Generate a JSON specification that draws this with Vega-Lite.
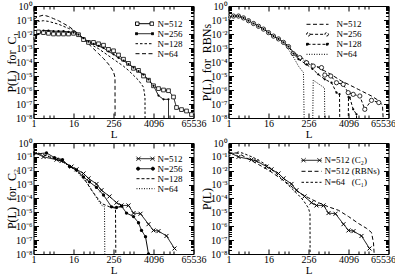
{
"$schema":"https://vega.github.io/schema/vega-lite/v6.json",
"padding":{"left":4.5,"top":0,"right":0,"bottom":0},
"bounds":"flush",
"columns":2,
"spacing":{"row":25,"column":35},
"config":{
 "font":"Liberation Serif",
 "view":{"stroke":"black","strokeWidth":1},
 "mark":{"color":"black"},
 "axis":{"domain":false,"grid":false,"labelFont":"Liberation Serif","labelFontSize":10,"labelColor":"black","tickColor":"black","tickWidth":1,"titleFont":"Liberation Serif","titleFontWeight":"normal","titleColor":"black","labelFlush":false,"labelOverlap":false},
 "axisX":{"labelPadding":5,"titlePadding":0,"titleFontSize":11},
 "axisY":{"labelPadding":6.5,"titlePadding":-2.5,"titleFontSize":12},
 "legend":{"labelFont":"Liberation Serif","labelFontSize":9,"labelColor":"black","padding":0,"rowPadding":0,"symbolStrokeWidth":1,"symbolStrokeColor":"black","symbolSize":64}
},
"resolve":{"scale":{"strokeDash":"independent"},"legend":{"strokeDash":"independent"}},
"datasets":{
"c1":[
{"series":"N=512","L":1,"P":5.62e-3},{"series":"N=512","L":1.414,"P":1.41e-2},{"series":"N=512","L":2,"P":1.26e-2},{"series":"N=512","L":2.828,"P":1.12e-2},{"series":"N=512","L":4,"P":1.0e-2},{"series":"N=512","L":5.657,"P":1.0e-2},{"series":"N=512","L":8,"P":1.0e-2},{"series":"N=512","L":11.31,"P":1.0e-2},{"series":"N=512","L":16,"P":1.12e-2},{"series":"N=512","L":22.63,"P":8.91e-3},{"series":"N=512","L":32,"P":3.98e-3},{"series":"N=512","L":45.25,"P":2.51e-3},{"series":"N=512","L":64,"P":2.51e-3},{"series":"N=512","L":90.5,"P":2.0e-3},{"series":"N=512","L":128,"P":1.58e-3},{"series":"N=512","L":181,"P":7.94e-4},{"series":"N=512","L":256,"P":6.31e-4},{"series":"N=512","L":362,"P":3.16e-4},{"series":"N=512","L":512,"P":1.58e-4},{"series":"N=512","L":724,"P":7.94e-5},{"series":"N=512","L":1024,"P":3.55e-5},{"series":"N=512","L":1448,"P":2.51e-5},{"series":"N=512","L":2048,"P":1.0e-5},{"series":"N=512","L":2896,"P":5.01e-6},{"series":"N=512","L":4096,"P":2.0e-6},{"series":"N=512","L":5793,"P":1.26e-6},{"series":"N=512","L":8192,"P":1.0e-6},{"series":"N=512","L":11585,"P":8.91e-7},{"series":"N=512","L":16384,"P":3.16e-7},{"series":"N=512","L":20171,"P":5.62e-8},{"series":"N=512","L":28526,"P":3.98e-8},{"series":"N=512","L":40341,"P":3.16e-8},{"series":"N=512","L":57052,"P":1.78e-8},
{"series":"N=256","L":1,"P":5.01e-3},{"series":"N=256","L":1.414,"P":1.0e-2},{"series":"N=256","L":2,"P":1.78e-2},{"series":"N=256","L":2.828,"P":1.78e-2},{"series":"N=256","L":4,"P":1.58e-2},{"series":"N=256","L":5.657,"P":1.58e-2},{"series":"N=256","L":8,"P":1.58e-2},{"series":"N=256","L":11.31,"P":1.41e-2},{"series":"N=256","L":16,"P":1.26e-2},{"series":"N=256","L":22.63,"P":8.91e-3},{"series":"N=256","L":32,"P":5.01e-3},{"series":"N=256","L":45.25,"P":2.82e-3},{"series":"N=256","L":64,"P":2.0e-3},{"series":"N=256","L":90.5,"P":1.41e-3},{"series":"N=256","L":128,"P":1.0e-3},{"series":"N=256","L":181,"P":5.62e-4},{"series":"N=256","L":256,"P":3.55e-4},{"series":"N=256","L":362,"P":2.0e-4},{"series":"N=256","L":512,"P":1.26e-4},{"series":"N=256","L":724,"P":7.08e-5},{"series":"N=256","L":1024,"P":3.98e-5},{"series":"N=256","L":1448,"P":2.24e-5},{"series":"N=256","L":2048,"P":1.26e-5},{"series":"N=256","L":2896,"P":5.62e-6},{"series":"N=256","L":4096,"P":2.0e-6},{"series":"N=256","L":5793,"P":3.98e-7},{"series":"N=256","L":8192,"P":2.14e-7},{"series":"N=256","L":11585,"P":2.14e-7},{"series":"N=256","L":11600,"P":1e-10},
{"series":"N=128","L":1,"P":5.01e-2},{"series":"N=128","L":1.414,"P":7.94e-2},{"series":"N=128","L":2,"P":8.91e-2},{"series":"N=128","L":2.828,"P":7.94e-2},{"series":"N=128","L":4,"P":6.31e-2},{"series":"N=128","L":5.657,"P":5.01e-2},{"series":"N=128","L":8,"P":3.55e-2},{"series":"N=128","L":11.31,"P":2.51e-2},{"series":"N=128","L":16,"P":1.78e-2},{"series":"N=128","L":22.63,"P":1.0e-2},{"series":"N=128","L":32,"P":5.01e-3},{"series":"N=128","L":45.25,"P":2.51e-3},{"series":"N=128","L":64,"P":1.41e-3},{"series":"N=128","L":90.5,"P":8.91e-4},{"series":"N=128","L":128,"P":5.01e-4},{"series":"N=128","L":181,"P":2.82e-4},{"series":"N=128","L":256,"P":1.58e-4},{"series":"N=128","L":362,"P":8.91e-5},{"series":"N=128","L":512,"P":5.01e-5},{"series":"N=128","L":724,"P":2.51e-5},{"series":"N=128","L":1024,"P":1.12e-5},{"series":"N=128","L":1448,"P":5.01e-6},{"series":"N=128","L":2048,"P":1.58e-6},{"series":"N=128","L":2272,"P":3.16e-7},{"series":"N=128","L":2290,"P":1e-10},
{"series":"N=64","L":1,"P":0.112},{"series":"N=64","L":1.414,"P":0.178},{"series":"N=64","L":2,"P":0.224},{"series":"N=64","L":2.828,"P":0.178},{"series":"N=64","L":4,"P":0.126},{"series":"N=64","L":5.657,"P":8.91e-2},{"series":"N=64","L":8,"P":5.62e-2},{"series":"N=64","L":11.31,"P":3.55e-2},{"series":"N=64","L":16,"P":2.0e-2},{"series":"N=64","L":22.63,"P":1.0e-2},{"series":"N=64","L":32,"P":4.47e-3},{"series":"N=64","L":45.25,"P":2.0e-3},{"series":"N=64","L":64,"P":8.91e-4},{"series":"N=64","L":90.5,"P":3.98e-4},{"series":"N=64","L":128,"P":1.78e-4},{"series":"N=64","L":181,"P":7.08e-5},{"series":"N=64","L":256,"P":2.0e-5},{"series":"N=64","L":284,"P":7.94e-6},{"series":"N=64","L":287,"P":1e-10}
],
"rbn":[
{"series":"N=512","L":1,"P":0.158},{"series":"N=512","L":1.414,"P":0.191},{"series":"N=512","L":2,"P":0.191},{"series":"N=512","L":2.828,"P":0.141},{"series":"N=512","L":4,"P":8.91e-2},{"series":"N=512","L":5.657,"P":5.62e-2},{"series":"N=512","L":8,"P":3.55e-2},{"series":"N=512","L":11.31,"P":2.24e-2},{"series":"N=512","L":16,"P":1.26e-2},{"series":"N=512","L":22.63,"P":7.08e-3},{"series":"N=512","L":32,"P":4.47e-3},{"series":"N=512","L":45.25,"P":2.51e-3},{"series":"N=512","L":64,"P":1.26e-3},{"series":"N=512","L":90.5,"P":5.01e-4},{"series":"N=512","L":157.6,"P":2.04e-4},{"series":"N=512","L":256,"P":1.0e-4},{"series":"N=512","L":512,"P":3.98e-5},{"series":"N=512","L":792.4,"P":2.29e-5},{"series":"N=512","L":1448,"P":1.0e-5},{"series":"N=512","L":2521,"P":4.37e-6},{"series":"N=512","L":4096,"P":2.51e-6},{"series":"N=512","L":8023,"P":1.12e-6},{"series":"N=512","L":20171,"P":3.72e-7},{"series":"N=512","L":32768,"P":1.78e-7},{"series":"N=512","L":43237,"P":7.94e-8},{"series":"N=512","L":49667,"P":1e-10},
{"series":"N=256","L":1,"P":0.158},{"series":"N=256","L":1.414,"P":0.191},{"series":"N=256","L":2,"P":0.191},{"series":"N=256","L":2.828,"P":0.141},{"series":"N=256","L":4,"P":8.91e-2},{"series":"N=256","L":5.657,"P":5.62e-2},{"series":"N=256","L":8,"P":3.55e-2},{"series":"N=256","L":11.31,"P":2.24e-2},{"series":"N=256","L":16,"P":1.26e-2},{"series":"N=256","L":22.63,"P":7.08e-3},{"series":"N=256","L":32,"P":4.47e-3},{"series":"N=256","L":45.25,"P":2.51e-3},{"series":"N=256","L":64,"P":1.26e-3},{"series":"N=256","L":88.65,"P":3.98e-4},{"series":"N=256","L":140.1,"P":2.04e-4},{"series":"N=256","L":222.9,"P":8.91e-5},{"series":"N=256","L":354.6,"P":5.13e-5},{"series":"N=256","L":630.4,"P":3.98e-5},{"series":"N=256","L":792.4,"P":1.17e-5},{"series":"N=256","L":1201,"P":1.0e-5},{"series":"N=256","L":1783,"P":3.31e-6},{"series":"N=256","L":2837,"P":2.51e-6},{"series":"N=256","L":4012,"P":6.46e-7},{"series":"N=256","L":5673,"P":4.9e-7},{"series":"N=256","L":8965,"P":3.72e-7},{"series":"N=256","L":12678,"P":4.17e-8},{"series":"N=256","L":20171,"P":1.82e-7},{"series":"N=256","L":33456,"P":1.26e-7},
{"series":"N=128","L":1,"P":0.158},{"series":"N=128","L":1.414,"P":0.191},{"series":"N=128","L":2,"P":0.191},{"series":"N=128","L":2.828,"P":0.141},{"series":"N=128","L":4,"P":8.91e-2},{"series":"N=128","L":5.657,"P":5.62e-2},{"series":"N=128","L":8,"P":3.55e-2},{"series":"N=128","L":11.31,"P":2.24e-2},{"series":"N=128","L":16,"P":1.26e-2},{"series":"N=128","L":22.63,"P":7.08e-3},{"series":"N=128","L":32,"P":4.47e-3},{"series":"N=128","L":45.25,"P":2.51e-3},{"series":"N=128","L":64,"P":1.26e-3},{"series":"N=128","L":90.5,"P":3.98e-4},{"series":"N=128","L":128,"P":1.58e-4},{"series":"N=128","L":222.9,"P":6.76e-5},{"series":"N=128","L":337.8,"P":3.16e-5},{"series":"N=128","L":501.4,"P":1.32e-5},{"series":"N=128","L":792.4,"P":5.75e-6},{"series":"N=128","L":1261,"P":3.31e-6},{"series":"N=128","L":1783,"P":6.46e-7},{"series":"N=128","L":2195,"P":5.01e-7},{"series":"N=128","L":2272,"P":1e-10},{"series":"N=128","L":3956,"P":1e-10},{"series":"N=128","L":4096,"P":3.16e-7},{"series":"N=128","L":4482,"P":2.82e-7},{"series":"N=128","L":5673,"P":4.17e-8},{"series":"N=128","L":7131,"P":1.82e-8},{"series":"N=128","L":7383,"P":1e-10},
{"series":"N=64","L":1,"P":0.158},{"series":"N=64","L":1.414,"P":0.191},{"series":"N=64","L":2,"P":0.191},{"series":"N=64","L":2.828,"P":0.141},{"series":"N=64","L":4,"P":8.91e-2},{"series":"N=64","L":5.657,"P":5.62e-2},{"series":"N=64","L":8,"P":3.55e-2},{"series":"N=64","L":11.31,"P":2.24e-2},{"series":"N=64","L":16,"P":1.26e-2},{"series":"N=64","L":22.63,"P":7.08e-3},{"series":"N=64","L":32,"P":4.47e-3},{"series":"N=64","L":45.25,"P":2.24e-3},{"series":"N=64","L":64,"P":7.94e-4},{"series":"N=64","L":90.5,"P":2.24e-4},{"series":"N=64","L":128,"P":5.01e-5},{"series":"N=64","L":181,"P":1.74e-5},{"series":"N=64","L":194,"P":1e-10},{"series":"N=64","L":337.8,"P":1e-10},{"series":"N=64","L":354.6,"P":5.01e-6},{"series":"N=64","L":776,"P":1.41e-6},{"series":"N=64","L":803.4,"P":1e-10}
],
"c2":[
{"series":"N=512","L":1,"P":0.224},{"series":"N=512","L":2,"P":0.1},{"series":"N=512","L":4.925,"P":6.31e-2},{"series":"N=512","L":6.964,"P":5.01e-2},{"series":"N=512","L":13.93,"P":2.0e-2},{"series":"N=512","L":19.7,"P":1.26e-2},{"series":"N=512","L":32,"P":6.31e-3},{"series":"N=512","L":45.25,"P":2.82e-3},{"series":"N=512","L":78.8,"P":1.12e-3},{"series":"N=512","L":111.4,"P":3.98e-4},{"series":"N=512","L":194,"P":1.41e-4},{"series":"N=512","L":315.2,"P":5.01e-5},{"series":"N=512","L":445.7,"P":3.16e-5},{"series":"N=512","L":724,"P":3.16e-5},{"series":"N=512","L":1024,"P":8.91e-6},{"series":"N=512","L":1663,"P":7.94e-6},{"series":"N=512","L":2896,"P":1.41e-6},{"series":"N=512","L":4096,"P":5.01e-7},{"series":"N=512","L":5793,"P":4.47e-7},{"series":"N=512","L":10086,"P":2.0e-7},{"series":"N=512","L":17560,"P":2.51e-8},
{"series":"N=256","L":1,"P":0.158},{"series":"N=256","L":2.462,"P":0.191},{"series":"N=256","L":4.287,"P":8.91e-2},{"series":"N=256","L":7.464,"P":6.31e-2},{"series":"N=256","L":12.13,"P":2.0e-2},{"series":"N=256","L":19.7,"P":1.12e-2},{"series":"N=256","L":32,"P":3.55e-3},{"series":"N=256","L":48.5,"P":1.58e-3},{"series":"N=256","L":78.8,"P":6.31e-4},{"series":"N=256","L":128,"P":1.78e-4},{"series":"N=256","L":222.9,"P":2.51e-5},{"series":"N=256","L":315.2,"P":2.24e-5},{"series":"N=256","L":445.7,"P":2.82e-5},{"series":"N=256","L":630.4,"P":8.91e-6},{"series":"N=256","L":1024,"P":5.01e-6},{"series":"N=256","L":1448,"P":1.78e-6},{"series":"N=256","L":1783,"P":5.01e-7},{"series":"N=256","L":2353,"P":1.78e-7},{"series":"N=256","L":2896,"P":1.0e-8},{"series":"N=256","L":3104,"P":1e-9},
{"series":"N=128","L":1,"P":0.2},{"series":"N=128","L":2,"P":0.141},{"series":"N=128","L":4,"P":7.94e-2},{"series":"N=128","L":8,"P":4.47e-2},{"series":"N=128","L":11.31,"P":2.51e-2},{"series":"N=128","L":16,"P":1.41e-2},{"series":"N=128","L":22.63,"P":7.94e-3},{"series":"N=128","L":32,"P":3.16e-3},{"series":"N=128","L":55.7,"P":3.98e-4},{"series":"N=128","L":78.8,"P":1.32e-4},{"series":"N=128","L":111.4,"P":4.37e-5},{"series":"N=128","L":194,"P":2.51e-5},{"series":"N=128","L":294,"P":2.0e-5},{"series":"N=128","L":304.4,"P":1e-10},
{"series":"N=64","L":1,"P":0.224},{"series":"N=64","L":2,"P":0.158},{"series":"N=64","L":4,"P":7.94e-2},{"series":"N=64","L":8,"P":3.98e-2},{"series":"N=64","L":16,"P":1.41e-2},{"series":"N=64","L":22.63,"P":6.31e-3},{"series":"N=64","L":32,"P":2.51e-3},{"series":"N=64","L":45.25,"P":1.0e-3},{"series":"N=64","L":70,"P":1.74e-4},{"series":"N=64","L":111.4,"P":3.31e-5},{"series":"N=64","L":137.2,"P":2.51e-5},{"series":"N=64","L":142,"P":1e-10}
],
"p4":[
{"series":"N=512 (C₂)","L":1,"P":0.224},{"series":"N=512 (C₂)","L":2,"P":0.1},{"series":"N=512 (C₂)","L":4.925,"P":6.31e-2},{"series":"N=512 (C₂)","L":6.964,"P":5.01e-2},{"series":"N=512 (C₂)","L":13.93,"P":2.0e-2},{"series":"N=512 (C₂)","L":19.7,"P":1.26e-2},{"series":"N=512 (C₂)","L":32,"P":6.31e-3},{"series":"N=512 (C₂)","L":45.25,"P":2.82e-3},{"series":"N=512 (C₂)","L":78.8,"P":1.12e-3},{"series":"N=512 (C₂)","L":111.4,"P":3.98e-4},{"series":"N=512 (C₂)","L":194,"P":1.41e-4},{"series":"N=512 (C₂)","L":315.2,"P":5.01e-5},{"series":"N=512 (C₂)","L":445.7,"P":3.16e-5},{"series":"N=512 (C₂)","L":724,"P":3.16e-5},{"series":"N=512 (C₂)","L":1024,"P":8.91e-6},{"series":"N=512 (C₂)","L":1663,"P":7.94e-6},{"series":"N=512 (C₂)","L":2896,"P":1.41e-6},{"series":"N=512 (C₂)","L":4096,"P":5.01e-7},{"series":"N=512 (C₂)","L":5793,"P":4.47e-7},{"series":"N=512 (C₂)","L":10086,"P":2.0e-7},{"series":"N=512 (C₂)","L":17560,"P":2.51e-8},
{"series":"N=512 (RBNs)","L":1,"P":0.178},{"series":"N=512 (RBNs)","L":1.414,"P":0.2},{"series":"N=512 (RBNs)","L":2,"P":0.178},{"series":"N=512 (RBNs)","L":4,"P":7.08e-2},{"series":"N=512 (RBNs)","L":8,"P":2.82e-2},{"series":"N=512 (RBNs)","L":16,"P":1.12e-2},{"series":"N=512 (RBNs)","L":32,"P":3.55e-3},{"series":"N=512 (RBNs)","L":64,"P":1.12e-3},{"series":"N=512 (RBNs)","L":128,"P":2.82e-4},{"series":"N=512 (RBNs)","L":256,"P":1.12e-4},{"series":"N=512 (RBNs)","L":512,"P":5.01e-5},{"series":"N=512 (RBNs)","L":1024,"P":2.51e-5},{"series":"N=512 (RBNs)","L":2048,"P":1.41e-5},{"series":"N=512 (RBNs)","L":4096,"P":5.01e-6},{"series":"N=512 (RBNs)","L":8192,"P":1.58e-6},{"series":"N=512 (RBNs)","L":14263,"P":7.08e-7},{"series":"N=512 (RBNs)","L":20171,"P":3.55e-7},{"series":"N=512 (RBNs)","L":23170,"P":6.31e-8},{"series":"N=512 (RBNs)","L":25709,"P":1e-9},
{"series":"N=64\u00a0\u00a0\u00a0(C₁)","L":1,"P":0.112},{"series":"N=64\u00a0\u00a0\u00a0(C₁)","L":1.414,"P":0.178},{"series":"N=64\u00a0\u00a0\u00a0(C₁)","L":2,"P":0.224},{"series":"N=64\u00a0\u00a0\u00a0(C₁)","L":2.828,"P":0.178},{"series":"N=64\u00a0\u00a0\u00a0(C₁)","L":4,"P":0.126},{"series":"N=64\u00a0\u00a0\u00a0(C₁)","L":5.657,"P":8.91e-2},{"series":"N=64\u00a0\u00a0\u00a0(C₁)","L":8,"P":5.62e-2},{"series":"N=64\u00a0\u00a0\u00a0(C₁)","L":11.31,"P":3.55e-2},{"series":"N=64\u00a0\u00a0\u00a0(C₁)","L":16,"P":2.0e-2},{"series":"N=64\u00a0\u00a0\u00a0(C₁)","L":22.63,"P":1.0e-2},{"series":"N=64\u00a0\u00a0\u00a0(C₁)","L":32,"P":4.47e-3},{"series":"N=64\u00a0\u00a0\u00a0(C₁)","L":45.25,"P":2.0e-3},{"series":"N=64\u00a0\u00a0\u00a0(C₁)","L":64,"P":8.91e-4},{"series":"N=64\u00a0\u00a0\u00a0(C₁)","L":90.5,"P":3.98e-4},{"series":"N=64\u00a0\u00a0\u00a0(C₁)","L":128,"P":1.78e-4},{"series":"N=64\u00a0\u00a0\u00a0(C₁)","L":181,"P":7.08e-5},{"series":"N=64\u00a0\u00a0\u00a0(C₁)","L":256,"P":2.0e-5},{"series":"N=64\u00a0\u00a0\u00a0(C₁)","L":284,"P":7.94e-6},{"series":"N=64\u00a0\u00a0\u00a0(C₁)","L":287,"P":1e-10}
]
},
"concat":[
{
 "width":160,"height":112,"data":{"name":"c1"},
 "resolve":{"axis":{"x":"independent","y":"independent"}},
 "layer":[
  {"mark":{"type":"line","stroke":"black","strokeWidth":1,"clip":true},
   "encoding":{
    "x":{"field":"L","type":"quantitative","scale":{"type":"log","base":2,"domain":[1,65536],"nice":false},"axis":{"orient":"bottom","values":[1,16,256,4096,65536],"format":"d","title":"L","tickSize":-5}},
    "y":{"field":"P","type":"quantitative","scale":{"type":"log","base":10,"domain":[1e-8,1],"nice":false},"axis":{"orient":"left","values":[1,0.1,0.01,0.001,0.0001,1e-5,1e-6,1e-7,1e-8],"labelExpr":"'10' + (datum.value >= 0.99 ? '⁰' : '⁻' + ['','¹','²','³','⁴','⁵','⁶','⁷','⁸'][round(-log(datum.value)/LN10)])","title":"P(L)\u00a0\u00a0for\u00a0\u00a0C₁","tickSize":-5}},
    "strokeDash":{"field":"series","type":"nominal","scale":{"domain":["N=512","N=256","N=128","N=64"],"range":[[1,0],[1,0],[2.5,2],[4,2.5]]},
     "legend":{"title":null,"orient":"none","legendX":106.5,"legendY":13.2,"labelOffset":8.5,
      "encode":{"symbols":{"update":{
       "shape":{"signal":"datum.value==='N=512' ? 'M-1.375,0H1.375M-2.25,-0.44h0.875v0.875h-0.875zM1.375,-0.44h0.875v0.875h-0.875z' : datum.value==='N=256' ? 'M-2,0H2M-2.25,-0.25h0.5v0.5h-0.5zM1.75,-0.25h0.5v0.5h-0.5z' : 'M-2.25,0H2.25'"},
       "fill":{"signal":"datum.value==='N=512' ? 'white' : datum.value==='N=256' ? 'black' : 'transparent'"},
       "stroke":{"value":"black"},"strokeWidth":{"value":1}}}}}}
   }},
  {"transform":[{"filter":"datum.series==='N=512'"}],
   "mark":{"type":"point","shape":"square","size":14,"filled":true,"fill":"white","stroke":"black","strokeWidth":0.8,"opacity":1,"clip":true},
   "encoding":{
    "x":{"field":"L","type":"quantitative","scale":{"type":"log","base":2,"domain":[1,65536],"nice":false},"axis":{"orient":"top","values":[1,16,256,4096,65536],"labels":false,"title":null,"tickSize":-5}},
    "y":{"field":"P","type":"quantitative","scale":{"type":"log","base":10,"domain":[1e-8,1],"nice":false},"axis":{"orient":"right","values":[1,0.1,0.01,0.001,0.0001,1e-5,1e-6,1e-7,1e-8],"labels":false,"title":null,"tickSize":-5}}}},
  {"transform":[{"filter":"datum.series==='N=256'"}],
   "mark":{"type":"circle","size":5,"fill":"black","opacity":1,"clip":true},
   "encoding":{
    "x":{"field":"L","type":"quantitative","scale":{"type":"log","base":2,"domain":[1,65536],"nice":false},"axis":{"orient":"bottom","values":[2,3,4,32,48,64,512,768,1024,8192,12288,16384],"labels":false,"title":null,"tickSize":-3}},
    "y":{"field":"P","type":"quantitative","scale":{"type":"log","base":10,"domain":[1e-8,1],"nice":false},"axis":{"orient":"left","values":[2e-8,3e-8,4e-8,5e-8,6e-8,7e-8,8e-8,9e-8,2e-7,3e-7,4e-7,5e-7,6e-7,7e-7,8e-7,9e-7,2e-6,3e-6,4e-6,5e-6,6e-6,7e-6,8e-6,9e-6,2e-5,3e-5,4e-5,5e-5,6e-5,7e-5,8e-5,9e-5,2e-4,3e-4,4e-4,5e-4,6e-4,7e-4,8e-4,9e-4,0.002,0.003,0.004,0.005,0.006,0.007,0.008,0.009,0.02,0.03,0.04,0.05,0.06,0.07,0.08,0.09,0.2,0.3,0.4,0.5,0.6,0.7,0.8,0.9],"labels":false,"title":null,"tickSize":-3}}}},
  {"mark":{"type":"point","opacity":0},
   "encoding":{
    "x":{"field":"L","type":"quantitative","scale":{"type":"log","base":2,"domain":[1,65536],"nice":false},"axis":{"orient":"top","values":[2,3,4,32,48,64,512,768,1024,8192,12288,16384],"labels":false,"title":null,"tickSize":-3}},
    "y":{"field":"P","type":"quantitative","scale":{"type":"log","base":10,"domain":[1e-8,1],"nice":false},"axis":{"orient":"right","values":[2e-8,3e-8,4e-8,5e-8,6e-8,7e-8,8e-8,9e-8,2e-7,3e-7,4e-7,5e-7,6e-7,7e-7,8e-7,9e-7,2e-6,3e-6,4e-6,5e-6,6e-6,7e-6,8e-6,9e-6,2e-5,3e-5,4e-5,5e-5,6e-5,7e-5,8e-5,9e-5,2e-4,3e-4,4e-4,5e-4,6e-4,7e-4,8e-4,9e-4,0.002,0.003,0.004,0.005,0.006,0.007,0.008,0.009,0.02,0.03,0.04,0.05,0.06,0.07,0.08,0.09,0.2,0.3,0.4,0.5,0.6,0.7,0.8,0.9],"labels":false,"title":null,"tickSize":-3}}}}
 ]
},
{
 "width":160,"height":112,"data":{"name":"rbn"},
 "resolve":{"axis":{"x":"independent","y":"independent"}},
 "layer":[
  {"mark":{"type":"line","stroke":"black","strokeWidth":1,"clip":true},
   "encoding":{
    "x":{"field":"L","type":"quantitative","scale":{"type":"log","base":2,"domain":[1,65536],"nice":false},"axis":{"orient":"bottom","values":[1,16,256,4096,65536],"format":"d","title":"L","tickSize":-5,"labelAlign":{"condition":{"test":"datum.value >= 65536","value":"right"},"value":"center"},"labelOffset":{"condition":{"test":"datum.value >= 65536","value":7},"value":0}}},
    "y":{"field":"P","type":"quantitative","scale":{"type":"log","base":10,"domain":[1e-8,1],"nice":false},"axis":{"orient":"left","values":[1,0.1,0.01,0.001,0.0001,1e-5,1e-6,1e-7,1e-8],"labelExpr":"'10' + (datum.value >= 0.99 ? '⁰' : '⁻' + ['','¹','²','³','⁴','⁵','⁶','⁷','⁸'][round(-log(datum.value)/LN10)])","title":"P(L)\u00a0\u00a0for\u00a0\u00a0RBNs","tickSize":-5}},
    "strokeDash":{"field":"series","type":"nominal","scale":{"domain":["N=512","N=256","N=128","N=64"],"range":[[4,2.5],[3,2],[3,2],[1,1.5]]},
     "legend":{"title":null,"orient":"none","legendX":84.5,"legendY":13.8,"labelOffset":14.5,
      "encode":{"symbols":{"update":{
       "shape":{"signal":"datum.value==='N=256' ? 'M-1.85,0H1.85M-1.85,0L-1.982,0.318L-2.3,0.45L-2.618,0.318L-2.75,0L-2.618,-0.318L-2.3,-0.45L-1.982,-0.318ZM2.75,0L2.618,0.318L2.3,0.45L1.982,0.318L1.85,0L1.982,-0.318L2.3,-0.45L2.618,-0.318Z' : datum.value==='N=128' ? 'M-2.5,0H2.5M-2.75,-0.25h0.5v0.5h-0.5zM2.25,-0.25h0.5v0.5h-0.5z' : 'M-2.75,0H2.75'"},
       "fill":{"signal":"datum.value==='N=256' ? 'white' : datum.value==='N=128' ? 'black' : 'transparent'"},
       "stroke":{"value":"black"},"strokeWidth":{"value":1}}}}}}
   }},
  {"transform":[{"filter":"datum.series==='N=256'"}],
   "mark":{"type":"point","shape":"circle","size":18,"filled":true,"fill":"white","stroke":"black","strokeWidth":0.8,"opacity":1,"clip":true},
   "encoding":{
    "x":{"field":"L","type":"quantitative","scale":{"type":"log","base":2,"domain":[1,65536],"nice":false},"axis":{"orient":"top","values":[1,16,256,4096,65536],"labels":false,"title":null,"tickSize":-5}},
    "y":{"field":"P","type":"quantitative","scale":{"type":"log","base":10,"domain":[1e-8,1],"nice":false},"axis":{"orient":"right","values":[1,0.1,0.01,0.001,0.0001,1e-5,1e-6,1e-7,1e-8],"labels":false,"title":null,"tickSize":-5}}}},
  {"transform":[{"filter":"datum.series==='N=128'"}],
   "mark":{"type":"circle","size":5,"fill":"black","opacity":1,"clip":true},
   "encoding":{
    "x":{"field":"L","type":"quantitative","scale":{"type":"log","base":2,"domain":[1,65536],"nice":false},"axis":{"orient":"bottom","values":[2,3,4,32,48,64,512,768,1024,8192,12288,16384],"labels":false,"title":null,"tickSize":-3}},
    "y":{"field":"P","type":"quantitative","scale":{"type":"log","base":10,"domain":[1e-8,1],"nice":false},"axis":{"orient":"left","values":[2e-8,3e-8,4e-8,5e-8,6e-8,7e-8,8e-8,9e-8,2e-7,3e-7,4e-7,5e-7,6e-7,7e-7,8e-7,9e-7,2e-6,3e-6,4e-6,5e-6,6e-6,7e-6,8e-6,9e-6,2e-5,3e-5,4e-5,5e-5,6e-5,7e-5,8e-5,9e-5,2e-4,3e-4,4e-4,5e-4,6e-4,7e-4,8e-4,9e-4,0.002,0.003,0.004,0.005,0.006,0.007,0.008,0.009,0.02,0.03,0.04,0.05,0.06,0.07,0.08,0.09,0.2,0.3,0.4,0.5,0.6,0.7,0.8,0.9],"labels":false,"title":null,"tickSize":-3}}}},
  {"mark":{"type":"point","opacity":0},
   "encoding":{
    "x":{"field":"L","type":"quantitative","scale":{"type":"log","base":2,"domain":[1,65536],"nice":false},"axis":{"orient":"top","values":[2,3,4,32,48,64,512,768,1024,8192,12288,16384],"labels":false,"title":null,"tickSize":-3}},
    "y":{"field":"P","type":"quantitative","scale":{"type":"log","base":10,"domain":[1e-8,1],"nice":false},"axis":{"orient":"right","values":[2e-8,3e-8,4e-8,5e-8,6e-8,7e-8,8e-8,9e-8,2e-7,3e-7,4e-7,5e-7,6e-7,7e-7,8e-7,9e-7,2e-6,3e-6,4e-6,5e-6,6e-6,7e-6,8e-6,9e-6,2e-5,3e-5,4e-5,5e-5,6e-5,7e-5,8e-5,9e-5,2e-4,3e-4,4e-4,5e-4,6e-4,7e-4,8e-4,9e-4,0.002,0.003,0.004,0.005,0.006,0.007,0.008,0.009,0.02,0.03,0.04,0.05,0.06,0.07,0.08,0.09,0.2,0.3,0.4,0.5,0.6,0.7,0.8,0.9],"labels":false,"title":null,"tickSize":-3}}}}
 ]
},
{
 "width":160,"height":111,"data":{"name":"c2"},
 "resolve":{"axis":{"x":"independent","y":"independent"}},
 "layer":[
  {"mark":{"type":"line","stroke":"black","strokeWidth":1,"clip":true},
   "encoding":{
    "x":{"field":"L","type":"quantitative","scale":{"type":"log","base":2,"domain":[1,65536],"nice":false},"axis":{"orient":"bottom","values":[1,16,256,4096,65536],"format":"d","title":"L","tickSize":-5}},
    "y":{"field":"P","type":"quantitative","scale":{"type":"log","base":10,"domain":[1e-8,1],"nice":false},"axis":{"orient":"left","values":[1,0.1,0.01,0.001,0.0001,1e-5,1e-6,1e-7,1e-8],"labelExpr":"'10' + (datum.value >= 0.99 ? '⁰' : '⁻' + ['','¹','²','³','⁴','⁵','⁶','⁷','⁸'][round(-log(datum.value)/LN10)])","title":"P(L)\u00a0\u00a0for\u00a0\u00a0C₂","tickSize":-5}},
    "strokeDash":{"field":"series","type":"nominal","scale":{"domain":["N=512","N=256","N=128","N=64"],"range":[[1,0],[1,0],[3,2],[1,1.5]]},
     "legend":{"title":null,"orient":"none","legendX":107.5,"legendY":11.2,"labelOffset":7.5,
      "encode":{"symbols":{"update":{
       "shape":{"signal":"datum.value==='N=512' ? 'M-2.25,0H2.25M-2.25,-0.5L-1.25,0.5M-2.25,0.5L-1.25,-0.5M1.25,-0.5L2.25,0.5M1.25,0.5L2.25,-0.5' : datum.value==='N=256' ? 'M-2.25,0H2.25M-1.45,0L-1.567,0.283L-1.85,0.4L-2.133,0.283L-2.25,0L-2.133,-0.283L-1.85,-0.4L-1.567,-0.283ZM2.25,0L2.133,0.283L1.85,0.4L1.567,0.283L1.45,0L1.567,-0.283L1.85,-0.4L2.133,-0.283Z' : 'M-2.25,0H2.25'"},
       "fill":{"signal":"datum.value==='N=256' ? 'black' : 'transparent'"},
       "stroke":{"value":"black"},"strokeWidth":{"value":1}}}}}}
   }},
  {"transform":[{"filter":"datum.series==='N=512'"}],
   "mark":{"type":"point","shape":"M-1,-1L1,1M-1,1L1,-1","size":16,"filled":false,"stroke":"black","strokeWidth":1,"opacity":1,"clip":true},
   "encoding":{
    "x":{"field":"L","type":"quantitative","scale":{"type":"log","base":2,"domain":[1,65536],"nice":false},"axis":{"orient":"top","values":[1,16,256,4096,65536],"labels":false,"title":null,"tickSize":-5}},
    "y":{"field":"P","type":"quantitative","scale":{"type":"log","base":10,"domain":[1e-8,1],"nice":false},"axis":{"orient":"right","values":[1,0.1,0.01,0.001,0.0001,1e-5,1e-6,1e-7,1e-8],"labels":false,"title":null,"tickSize":-5}}}},
  {"transform":[{"filter":"datum.series==='N=256'"}],
   "mark":{"type":"circle","size":11,"fill":"black","opacity":1,"clip":true},
   "encoding":{
    "x":{"field":"L","type":"quantitative","scale":{"type":"log","base":2,"domain":[1,65536],"nice":false},"axis":{"orient":"bottom","values":[2,3,4,32,48,64,512,768,1024,8192,12288,16384],"labels":false,"title":null,"tickSize":-3}},
    "y":{"field":"P","type":"quantitative","scale":{"type":"log","base":10,"domain":[1e-8,1],"nice":false},"axis":{"orient":"left","values":[2e-8,3e-8,4e-8,5e-8,6e-8,7e-8,8e-8,9e-8,2e-7,3e-7,4e-7,5e-7,6e-7,7e-7,8e-7,9e-7,2e-6,3e-6,4e-6,5e-6,6e-6,7e-6,8e-6,9e-6,2e-5,3e-5,4e-5,5e-5,6e-5,7e-5,8e-5,9e-5,2e-4,3e-4,4e-4,5e-4,6e-4,7e-4,8e-4,9e-4,0.002,0.003,0.004,0.005,0.006,0.007,0.008,0.009,0.02,0.03,0.04,0.05,0.06,0.07,0.08,0.09,0.2,0.3,0.4,0.5,0.6,0.7,0.8,0.9],"labels":false,"title":null,"tickSize":-3}}}},
  {"mark":{"type":"point","opacity":0},
   "encoding":{
    "x":{"field":"L","type":"quantitative","scale":{"type":"log","base":2,"domain":[1,65536],"nice":false},"axis":{"orient":"top","values":[2,3,4,32,48,64,512,768,1024,8192,12288,16384],"labels":false,"title":null,"tickSize":-3}},
    "y":{"field":"P","type":"quantitative","scale":{"type":"log","base":10,"domain":[1e-8,1],"nice":false},"axis":{"orient":"right","values":[2e-8,3e-8,4e-8,5e-8,6e-8,7e-8,8e-8,9e-8,2e-7,3e-7,4e-7,5e-7,6e-7,7e-7,8e-7,9e-7,2e-6,3e-6,4e-6,5e-6,6e-6,7e-6,8e-6,9e-6,2e-5,3e-5,4e-5,5e-5,6e-5,7e-5,8e-5,9e-5,2e-4,3e-4,4e-4,5e-4,6e-4,7e-4,8e-4,9e-4,0.002,0.003,0.004,0.005,0.006,0.007,0.008,0.009,0.02,0.03,0.04,0.05,0.06,0.07,0.08,0.09,0.2,0.3,0.4,0.5,0.6,0.7,0.8,0.9],"labels":false,"title":null,"tickSize":-3}}}}
 ]
},
{
 "width":160,"height":111,"data":{"name":"p4"},
 "resolve":{"axis":{"x":"independent","y":"independent"}},
 "layer":[
  {"mark":{"type":"line","stroke":"black","strokeWidth":1,"clip":true},
   "encoding":{
    "x":{"field":"L","type":"quantitative","scale":{"type":"log","base":2,"domain":[1,65536],"nice":false},"axis":{"orient":"bottom","values":[1,16,256,4096,65536],"format":"d","title":"L","tickSize":-5,"labelAlign":{"condition":{"test":"datum.value >= 65536","value":"right"},"value":"center"},"labelOffset":{"condition":{"test":"datum.value >= 65536","value":7},"value":0}}},
    "y":{"field":"P","type":"quantitative","scale":{"type":"log","base":10,"domain":[1e-8,1],"nice":false},"axis":{"orient":"left","values":[1,0.1,0.01,0.001,0.0001,1e-5,1e-6,1e-7,1e-8],"labelExpr":"'10' + (datum.value >= 0.99 ? '⁰' : '⁻' + ['','¹','²','³','⁴','⁵','⁶','⁷','⁸'][round(-log(datum.value)/LN10)])","title":"P(L)","tickSize":-5}},
    "strokeDash":{"field":"series","type":"nominal","scale":{"domain":["N=512 (C₂)","N=512 (RBNs)","N=64\u00a0\u00a0\u00a0(C₁)"],"range":[[1,0],[4,2.5],[2.5,2]]},
     "legend":{"title":null,"orient":"none","legendX":78.5,"legendY":12.8,"labelOffset":8.5,"rowPadding":1,
      "encode":{"symbols":{"update":{
       "shape":{"signal":"datum.value==='N=512 (C₂)' ? 'M-2.5,0H2.5M-2.5,-0.5L-1.5,0.5M-2.5,0.5L-1.5,-0.5M1.5,-0.5L2.5,0.5M1.5,0.5L2.5,-0.5' : 'M-2.5,0H2.5'"},
       "fill":{"value":"transparent"},
       "stroke":{"value":"black"},"strokeWidth":{"value":1}}}}}}
   }},
  {"transform":[{"filter":"datum.series==='N=512 (C₂)'"}],
   "mark":{"type":"point","shape":"M-1,-1L1,1M-1,1L1,-1","size":16,"filled":false,"stroke":"black","strokeWidth":1,"opacity":1,"clip":true},
   "encoding":{
    "x":{"field":"L","type":"quantitative","scale":{"type":"log","base":2,"domain":[1,65536],"nice":false},"axis":{"orient":"top","values":[1,16,256,4096,65536],"labels":false,"title":null,"tickSize":-5}},
    "y":{"field":"P","type":"quantitative","scale":{"type":"log","base":10,"domain":[1e-8,1],"nice":false},"axis":{"orient":"right","values":[1,0.1,0.01,0.001,0.0001,1e-5,1e-6,1e-7,1e-8],"labels":false,"title":null,"tickSize":-5}}}},
  {"mark":{"type":"point","opacity":0},
   "encoding":{
    "x":{"field":"L","type":"quantitative","scale":{"type":"log","base":2,"domain":[1,65536],"nice":false},"axis":{"orient":"bottom","values":[2,3,4,32,48,64,512,768,1024,8192,12288,16384],"labels":false,"title":null,"tickSize":-3}},
    "y":{"field":"P","type":"quantitative","scale":{"type":"log","base":10,"domain":[1e-8,1],"nice":false},"axis":{"orient":"left","values":[2e-8,3e-8,4e-8,5e-8,6e-8,7e-8,8e-8,9e-8,2e-7,3e-7,4e-7,5e-7,6e-7,7e-7,8e-7,9e-7,2e-6,3e-6,4e-6,5e-6,6e-6,7e-6,8e-6,9e-6,2e-5,3e-5,4e-5,5e-5,6e-5,7e-5,8e-5,9e-5,2e-4,3e-4,4e-4,5e-4,6e-4,7e-4,8e-4,9e-4,0.002,0.003,0.004,0.005,0.006,0.007,0.008,0.009,0.02,0.03,0.04,0.05,0.06,0.07,0.08,0.09,0.2,0.3,0.4,0.5,0.6,0.7,0.8,0.9],"labels":false,"title":null,"tickSize":-3}}}},
  {"mark":{"type":"point","opacity":0},
   "encoding":{
    "x":{"field":"L","type":"quantitative","scale":{"type":"log","base":2,"domain":[1,65536],"nice":false},"axis":{"orient":"top","values":[2,3,4,32,48,64,512,768,1024,8192,12288,16384],"labels":false,"title":null,"tickSize":-3}},
    "y":{"field":"P","type":"quantitative","scale":{"type":"log","base":10,"domain":[1e-8,1],"nice":false},"axis":{"orient":"right","values":[2e-8,3e-8,4e-8,5e-8,6e-8,7e-8,8e-8,9e-8,2e-7,3e-7,4e-7,5e-7,6e-7,7e-7,8e-7,9e-7,2e-6,3e-6,4e-6,5e-6,6e-6,7e-6,8e-6,9e-6,2e-5,3e-5,4e-5,5e-5,6e-5,7e-5,8e-5,9e-5,2e-4,3e-4,4e-4,5e-4,6e-4,7e-4,8e-4,9e-4,0.002,0.003,0.004,0.005,0.006,0.007,0.008,0.009,0.02,0.03,0.04,0.05,0.06,0.07,0.08,0.09,0.2,0.3,0.4,0.5,0.6,0.7,0.8,0.9],"labels":false,"title":null,"tickSize":-3}}}}
 ]
}
]
}
